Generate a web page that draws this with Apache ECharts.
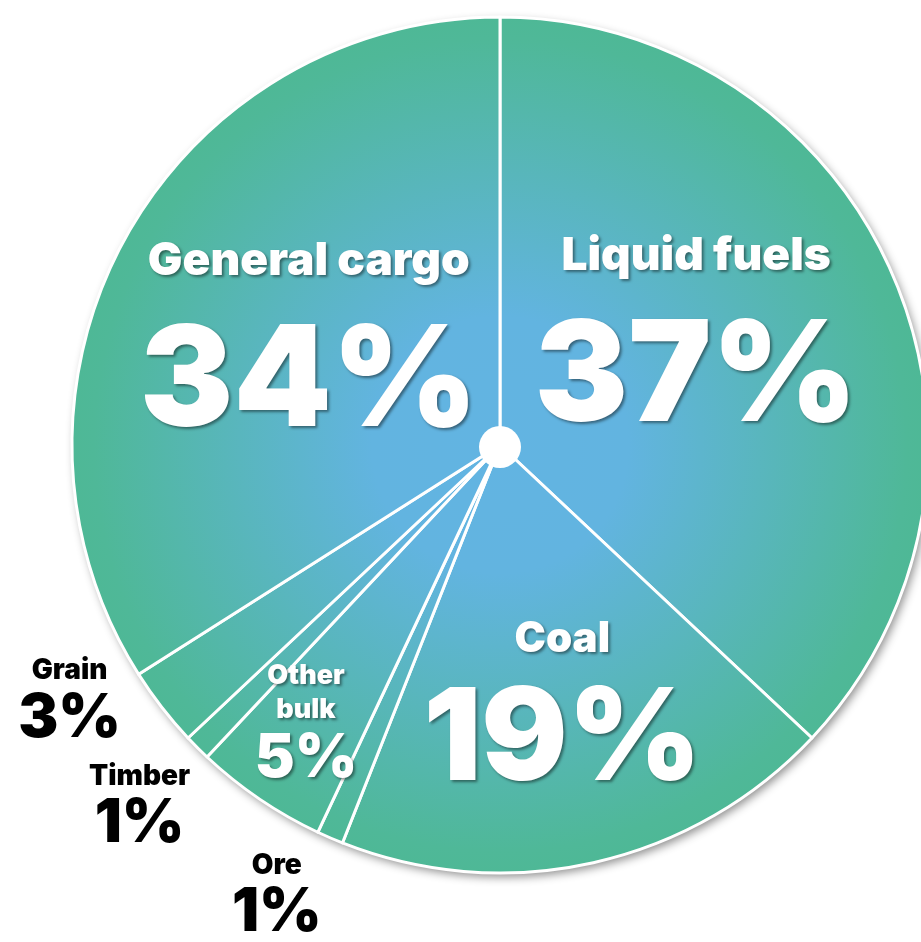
<!DOCTYPE html>
<html>
<head>
<meta charset="utf-8">
<script src="https://cdn.jsdelivr.net/npm/echarts@6/dist/echarts.min.js"></script>
<style>
  html, body { margin: 0; padding: 0; background: #fff; }
  #main { width: 921px; height: 942px; }
</style>
</head>
<body>
<div id="main"></div>
<script>
// cargo shares, clockwise from 12 o'clock
const categories = ['Liquid fuels', 'Coal', 'Ore', 'Other bulk', 'Timber', 'Grain', 'General cargo'];
const shares = [37, 19, 1, 5, 1, 3, 34];

// label nudges from the default inside spot
const labelNudge = [[-3, -20], [15, 50], [-137, 251], [-72, 100], [-207, 208], [-259, 123], [-1, 3]];

const CX = 500, CY = 445, R = 428;
const font = 'Inter, Roboto, "Liberation Sans", sans-serif';

const fill = {
  type: 'radial', x: CX, y: CY, r: R, global: true,
  colorStops: [
    { offset: 0, color: '#62b4e2' },
    { offset: 0.3, color: '#62b4e0' },
    { offset: 0.95, color: '#4fb898' },
    { offset: 1, color: '#4eb896' }
  ]
};

const whiteShadow = { textShadowColor: 'rgba(0,0,0,0.45)', textShadowBlur: 3, textShadowOffsetX: 2, textShadowOffsetY: 2 };

// [name size, name line, value size, value line, colour]
const labelStyles = {
  huge: [46, 80, 140, 165, '#fff'],
  large: [42, 70, 128, 135, '#fff'],
  mid: [27, 34, 60, 64, '#fff'],
  small: [28, 36, 60, 60, '#000']
};

function kindOf(value) {
  if (value >= 30) return 'huge';
  if (value >= 10) return 'large';
  if (value >= 5) return 'mid';
  return 'small';
}

function labelFor(name, value) {
  const kind = kindOf(value);
  const s = labelStyles[kind];
  const shadow = s[4] === '#fff' ? whiteShadow : {};
  const text = kind === 'mid' ? name.replace(' ', '\n') : name;
  return {
    formatter: '{n|' + text + '}\n{v|' + value + '%}',
    rich: {
      n: Object.assign({ color: s[4], fontFamily: font, fontWeight: 900, fontSize: s[0], lineHeight: s[1], align: 'center' }, shadow),
      v: Object.assign({ color: s[4], fontFamily: font, fontWeight: 900, fontSize: s[2], lineHeight: s[3], align: 'center' }, shadow)
    }
  };
}

const pieData = categories.map(function (name, i) {
  return { name: name, value: shares[i], label: labelFor(name, shares[i]) };
});

const total = shares.reduce(function (a, b) { return a + b; }, 0);

let myChart = echarts.init(document.getElementById('main'));
let option = {
  animation: false,
  series: [
    {
      // drop shadow under the whole pie
      type: 'pie', silent: true, z: 1,
      center: [CX, CY], radius: [0, R],
      label: { show: false }, labelLine: { show: false },
      itemStyle: { color: '#fff', shadowColor: 'rgba(0,0,0,0.45)', shadowBlur: 10, shadowOffsetX: 3, shadowOffsetY: 4 },
      data: [total]
    },
    {
      type: 'pie', z: 2,
      center: [CX, CY], radius: [0, R],
      startAngle: 90, clockwise: true,
      itemStyle: { color: fill, borderColor: '#fff', borderWidth: 3 },
      label: { show: true, position: 'inside' },
      labelLine: { show: false },
      labelLayout: function (params) {
        const n = labelNudge[params.dataIndex];
        return { dx: n[0], dy: n[1] };
      },
      emphasis: { disabled: true },
      data: pieData
    },
    {
      // white hub
      type: 'pie', silent: true, z: 3,
      center: [CX, CY + 2], radius: [0, 21],
      label: { show: false }, labelLine: { show: false },
      itemStyle: { color: '#fff' },
      data: [total]
    }
  ]
};
myChart.setOption(option);
</script>
</body>
</html>
